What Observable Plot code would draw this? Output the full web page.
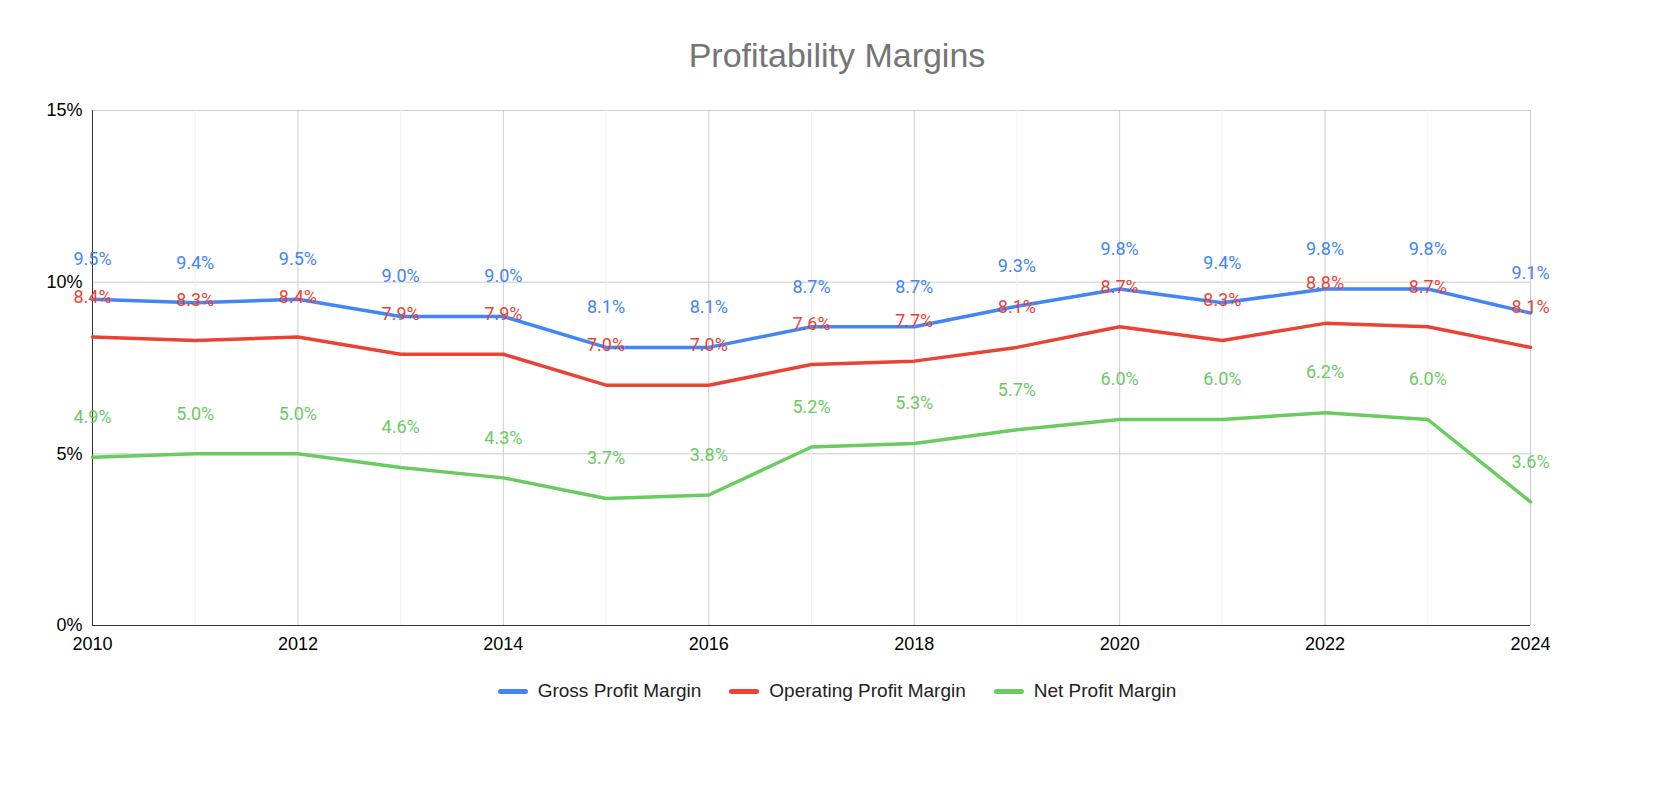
<!DOCTYPE html>
<html><head><meta charset="utf-8">
<script src="https://cdn.jsdelivr.net/npm/d3@7"></script>
<script src="https://cdn.jsdelivr.net/npm/@observablehq/plot@0.6"></script>
<style>
body{margin:0;background:#fff;font-family:Arial,"Liberation Sans",sans-serif;}
#title{height:95px;box-sizing:border-box;padding-top:35px;line-height:40px;text-align:center;font-size:34px;color:#757575;}
#legend{display:flex;justify-content:center;gap:28px;font-size:19px;color:#222;margin-top:3px;}
#legend span.sw{display:inline-block;width:30px;height:5px;border-radius:3px;vertical-align:middle;margin-right:10px;}
</style></head><body>
<div id="title">Profitability Margins</div>
<div id="chart"></div>
<div id="legend"></div>
<script>
const years = [2010,2011,2012,2013,2014,2015,2016,2017,2018,2019,2020,2021,2022,2023,2024];
const gross = [9.5,9.4,9.5,9.0,9.0,8.1,8.1,8.7,8.7,9.3,9.8,9.4,9.8,9.8,9.1];
const operating = [8.4,8.3,8.4,7.9,7.9,7.0,7.0,7.6,7.7,8.1,8.7,8.3,8.8,8.7,8.1];
const net = [4.9,5.0,5.0,4.6,4.3,3.7,3.8,5.2,5.3,5.7,6.0,6.0,6.2,6.0,3.6];
const seriesNames = ["Gross Profit Margin","Operating Profit Margin","Net Profit Margin"];
const colors = ["#4285f4","#ea4335","#6acb5f"];
const xTicks = [2010,2012,2014,2016,2018,2020,2022,2024];
const yTicks = [0,5,10,15];

const data = [];
[gross, operating, net].forEach((arr,i)=>arr.forEach((v,j)=>data.push({year:years[j], v, s:seriesNames[i]})));

const marks = [
  Plot.gridX(xTicks,{stroke:"#ccc",strokeOpacity:1}),
  Plot.gridY(yTicks,{stroke:"#ccc",strokeOpacity:1}),
  Plot.ruleX(years.filter(y=>!xTicks.includes(y)),{y1:0,y2:15,stroke:"#f2f2f2"}),
  Plot.ruleY([0],{stroke:"#333"}),
  Plot.ruleX([2010],{stroke:"#333"}),
];
seriesNames.slice().reverse().forEach(name=>{
  const d = data.filter(r=>r.s===name);
  const c = colors[seriesNames.indexOf(name)];
  marks.push(Plot.line(d,{x:"year",y:"v",stroke:c,strokeWidth:3.5}));
});
seriesNames.forEach((name,i)=>{
  const d = data.filter(r=>r.s===name);
  marks.push(Plot.text(d,{x:"year",y:"v",text:r=>r.v.toFixed(1)+"%",dy:-40,fill:colors[i],fontSize:18,fontFamily:"Roboto, Arial, sans-serif"}));
});

const chart = Plot.plot({
  width:1674, height:582,
  marginLeft:92, marginRight:144, marginTop:15, marginBottom:52,
  style:{fontFamily:"Arial, 'Liberation Sans', sans-serif",fontSize:"18px",color:"#000"},
  x:{domain:[2010,2024],ticks:xTicks,tickFormat:d=>String(d),tickSize:0,tickPadding:12,label:null},
  y:{domain:[0,15],ticks:yTicks,tickFormat:d=>d+"%",tickSize:0,tickPadding:10,label:null},
  marks
});
document.getElementById("chart").append(chart);
document.getElementById("legend").innerHTML = seriesNames.map((n,i)=>`<span><span class="sw" style="background:${colors[i]}"></span>${n}</span>`).join("");
</script>
</body></html>
